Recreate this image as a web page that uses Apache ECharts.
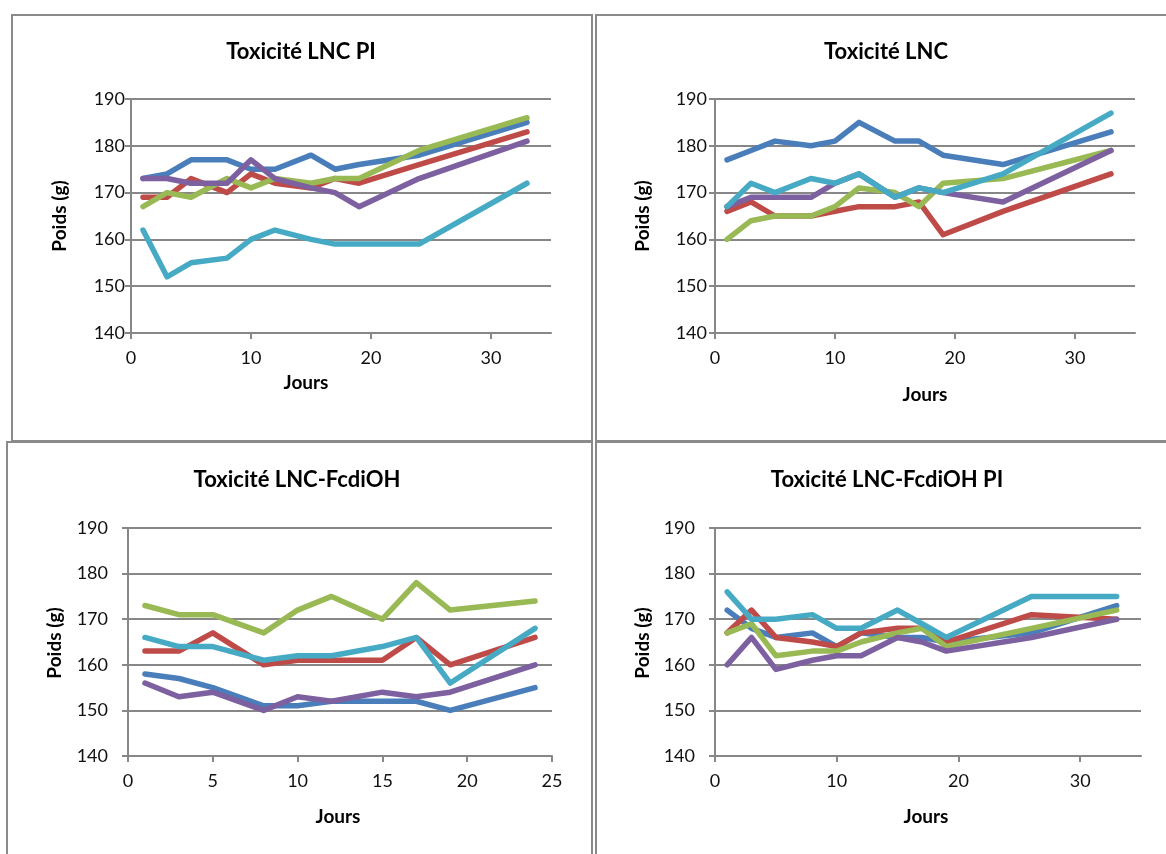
<!DOCTYPE html>
<html>
<head>
<meta charset="utf-8">
<script src="https://cdn.jsdelivr.net/npm/echarts@6/dist/echarts.min.js"></script>
<style>
  html, body { margin: 0; padding: 0; background: #ffffff; }
  #chart { width: 1166px; height: 854px; }
</style>
</head>
<body>
<div id="chart"></div>
<script>
// Days of measurement for each study
const daysLncPi = [1, 3, 5, 8, 10, 12, 15, 17, 19, 24, 33];
const daysLnc = [1, 3, 5, 8, 10, 12, 15, 17, 19, 24, 33];
const daysFcdiOH = [1, 3, 5, 8, 10, 12, 15, 17, 19, 24];
const daysFcdiOHPi = [1, 3, 5, 8, 10, 12, 15, 17, 19, 26, 33];

// Body weights (g), one array per animal
const lncPi1 = [173, 174, 177, 177, 175, 175, 178, 175, 176, 178, 185];
const lncPi2 = [169, 169, 173, 170, 174, 172, 171, 173, 172, 176, 183];
const lncPi3 = [167, 170, 169, 173, 171, 173, 172, 173, 173, 179, 186];
const lncPi4 = [173, 173, 172, 172, 177, 173, 171, 170, 167, 173, 181];
const lncPi5 = [162, 152, 155, 156, 160, 162, 160, 159, 159, 159, 172];

const lnc1 = [177, 179, 181, 180, 181, 185, 181, 181, 178, 176, 183];
const lnc2 = [166, 168, 165, 165, 166, 167, 167, 168, 161, 166, 174];
const lnc3 = [160, 164, 165, 165, 167, 171, 170, 167, 172, 173, 179];
const lnc4 = [167, 169, 169, 169, 172, 174, 169, 171, 170, 168, 179];
const lnc5 = [167, 172, 170, 173, 172, 174, 169, 171, 170, 174, 187];

const fcd1 = [158, 157, 155, 151, 151, 152, 152, 152, 150, 155];
const fcd2 = [163, 163, 167, 160, 161, 161, 161, 166, 160, 166];
const fcd3 = [173, 171, 171, 167, 172, 175, 170, 178, 172, 174];
const fcd4 = [156, 153, 154, 150, 153, 152, 154, 153, 154, 160];
const fcd5 = [166, 164, 164, 161, 162, 162, 164, 166, 156, 168];

const fcdPi1 = [172, 168, 166, 167, 164, 167, 166, 166, 165, 167, 173];
const fcdPi2 = [167, 172, 166, 165, 164, 167, 168, 168, 165, 171, 170];
const fcdPi3 = [167, 169, 162, 163, 163, 165, 167, 168, 164, 168, 172];
const fcdPi4 = [160, 166, 159, 161, 162, 162, 166, 165, 163, 166, 170];
const fcdPi5 = [176, 170, 170, 171, 168, 168, 172, 169, 166, 175, 175];

const panelTitles = ['Toxicité LNC PI', 'Toxicité LNC', 'Toxicité LNC-FcdiOH', 'Toxicité LNC-FcdiOH PI'];
const yTicks = [140, 150, 160, 170, 180, 190];
const xTicksWide = [0, 10, 20, 30];
const xTicksShort = [0, 5, 10, 15, 20, 25];

const palette = ['#4A7EBB', '#BE4B48', '#98B954', '#7D60A0', '#46AAC5'];
const FONT = 'Lato, "Open Sans", sans-serif';
const AXIS_GREY = '#878787';

const panels = [
  { days: daysLncPi, sets: [lncPi1, lncPi2, lncPi3, lncPi4, lncPi5], xMax: 35, xInt: 10, xTicks: xTicksWide,
    grid: { left: 131, top: 99, width: 420, height: 234 }, yMargin: 6 },
  { days: daysLnc, sets: [lnc1, lnc2, lnc3, lnc4, lnc5], xMax: 35, xInt: 10, xTicks: xTicksWide,
    grid: { left: 715, top: 99, width: 420, height: 234 }, yMargin: 8 },
  { days: daysFcdiOH, sets: [fcd1, fcd2, fcd3, fcd4, fcd5], xMax: 25, xInt: 5, xTicks: xTicksShort,
    grid: { left: 128, top: 528, width: 424, height: 228 }, yMargin: 20 },
  { days: daysFcdiOHPi, sets: [fcdPi1, fcdPi2, fcdPi3, fcdPi4, fcdPi5], xMax: 35, xInt: 10, xTicks: xTicksWide,
    grid: { left: 715, top: 528, width: 426, height: 228 }, yMargin: 20 }
];

const grids = [], xAxes = [], yAxes = [], series = [];
panels.forEach((p, gi) => {
  grids.push(Object.assign({ containLabel: false }, p.grid));
  xAxes.push({
    type: 'value', gridIndex: gi, min: 0, max: p.xMax, interval: p.xInt,
    axisLine: { show: true, onZero: false, lineStyle: { color: AXIS_GREY, width: 2 } },
    axisTick: { show: true, length: 6, customValues: p.xTicks, lineStyle: { color: AXIS_GREY, width: 2 } },
    axisLabel: { customValues: p.xTicks, margin: 16, fontSize: 18, color: '#111', fontFamily: FONT },
    splitLine: { show: false }
  });
  yAxes.push({
    type: 'value', gridIndex: gi, min: 140, max: 190, interval: 10,
    axisLine: { show: true, lineStyle: { color: AXIS_GREY, width: 2 } },
    axisTick: { show: true, length: 6, lineStyle: { color: AXIS_GREY, width: 2 } },
    axisLabel: { customValues: yTicks, margin: p.yMargin, fontSize: 18, color: '#111', fontFamily: FONT },
    splitLine: { show: true, lineStyle: { color: AXIS_GREY, width: 2 } }
  });
  p.sets.forEach((vals, si) => {
    series.push({
      type: 'line', xAxisIndex: gi, yAxisIndex: gi,
      data: p.days.map((d, i) => [d, vals[i]]),
      symbol: 'none', showSymbol: false,
      lineStyle: { color: palette[si], width: 5.5, cap: 'round', join: 'round' },
      itemStyle: { color: palette[si] },
      z: 2 + si
    });
  });
});

// Panel frames and text
const frameStyle = { fill: 'none', stroke: '#8a8a8a', lineWidth: 2 };
const titleStyle = (t, x, y) => ({
  type: 'text', x: x, y: y,
  style: { text: t, font: 'bold 22px ' + FONT, fill: '#000', textAlign: 'center', textVerticalAlign: 'middle' }
});
const xNameStyle = (x, y) => ({
  type: 'text', x: x, y: y,
  style: { text: 'Jours', font: 'bold 19px ' + FONT, fill: '#000', textAlign: 'center', textVerticalAlign: 'middle' }
});
const yNameStyle = (x, y) => ({
  type: 'text', x: x, y: y, rotation: Math.PI / 2,
  style: { text: 'Poids (g)', font: 'bold 19px ' + FONT, fill: '#000', textAlign: 'center', textVerticalAlign: 'middle' }
});

const graphics = [
  { type: 'rect', shape: { x: 12, y: 15, width: 580, height: 426 }, style: frameStyle, silent: true },
  { type: 'rect', shape: { x: 596, y: 15, width: 600, height: 426 }, style: frameStyle, silent: true },
  { type: 'rect', shape: { x: 7, y: 442, width: 585, height: 440 }, style: frameStyle, silent: true },
  { type: 'rect', shape: { x: 596, y: 442, width: 600, height: 440 }, style: frameStyle, silent: true },
  titleStyle(panelTitles[0], 301, 52),
  titleStyle(panelTitles[1], 886, 52),
  titleStyle(panelTitles[2], 297, 480),
  titleStyle(panelTitles[3], 887, 480),
  xNameStyle(306, 383),
  xNameStyle(925, 395),
  xNameStyle(338, 817),
  xNameStyle(926, 817),
  yNameStyle(60, 216),
  yNameStyle(643, 216),
  yNameStyle(55, 643),
  yNameStyle(643, 643)
];

const chart = echarts.init(document.getElementById('chart'), null, { renderer: 'canvas' });
chart.setOption({
  animation: false,
  backgroundColor: '#ffffff',
  grid: grids,
  xAxis: xAxes,
  yAxis: yAxes,
  series: series,
  graphic: graphics
});
</script>
</body>
</html>
